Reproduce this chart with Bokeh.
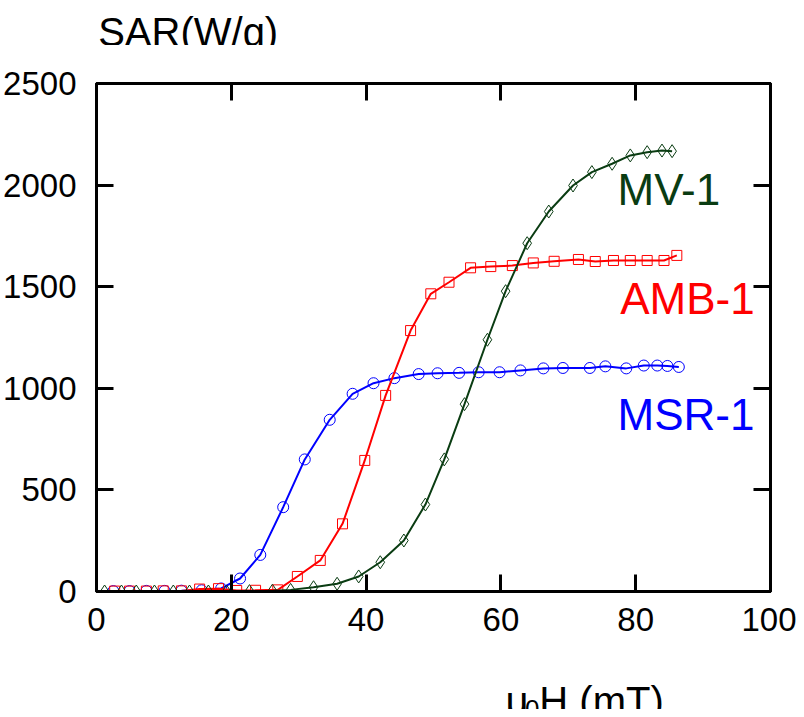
from bokeh.plotting import figure
from bokeh.models import Range1d, FixedTicker, LinearAxis, Label
from bokeh.layouts import column
from bokeh.embed import file_html
from bokeh.resources import INLINE

# ---- data ----
msr_x = [2.5, 4.9, 7.4, 10.1, 12.6, 15.6, 18.5, 21.3, 24.3, 27.7, 30.9, 34.6, 38.0, 41.1,
         44.2, 47.8, 50.6, 53.8, 56.7, 59.8, 62.9, 66.3, 69.2, 73.2, 75.5, 78.6, 81.2,
         83.2, 84.7, 86.4]
msr_y = [2, 2, 3, 3, 4, 6, 15, 64, 180, 415, 650, 845, 973, 1025,
         1050, 1070, 1074, 1076, 1079, 1079, 1088, 1098, 1100, 1100, 1108, 1098, 1112,
         1112, 1110, 1105]

amb_x = [2.7, 4.9, 7.4, 9.9, 12.6, 15.3, 18.1, 20.8, 23.6, 26.9, 29.8, 33.2, 36.5, 39.8,
         42.9, 46.6, 49.6, 52.3, 55.5, 58.5, 61.7, 64.8, 67.9, 71.5, 74.0, 76.7, 79.2,
         81.7, 84.2, 86.1]
amb_y = [2, 2, 2, 3, 3, 12, 14, 5, 6, 8, 74, 153, 333, 645,
         965, 1284, 1465, 1522, 1593, 1599, 1604, 1617, 1625, 1634, 1624, 1629, 1629,
         1629, 1629, 1654]

mv_x = [1.2, 3.7, 5.9, 8.6, 11.4, 13.8, 16.6, 19.3, 22.7, 26.1, 28.8, 32.2, 35.7, 38.9,
        42.1, 45.6, 48.8, 51.6, 54.6, 58.0, 60.7, 63.9, 67.1, 70.7, 73.5, 76.5, 79.2,
        81.7, 83.9, 85.4]
mv_y = [0, 0, 0, 0, 0, 0, 0, 0, 2, 4, 8, 21, 38, 74,
        144, 251, 428, 650, 922, 1239, 1478, 1714, 1870, 1998, 2064, 2105, 2146,
        2162, 2170, 2167]

x_ticks = [0, 20, 40, 60, 80, 100]
y_ticks = [0, 500, 1000, 1500, 2000, 2500]

series_labels = ["MSR-1", "AMB-1", "MV-1"]
y_title = "SAR(W/g)"
x_title_parts = ["\u03bc", "0", "H (mT)"]

BLUE = "#0000ff"
RED = "#ff0000"
GREEN = "#0a3c12"
FONT = "Liberation Sans"

W = 796
TOP_H = 45
BOT_H = 58
MAIN_H = 709 - TOP_H - BOT_H


def text_strip(height):
    f = figure(width=W, height=height, output_backend="svg", toolbar_location=None,
               x_range=Range1d(0, W), y_range=Range1d(0, height),
               x_axis_type=None, y_axis_type=None, min_border=0)
    f.min_border_left = f.min_border_right = f.min_border_top = f.min_border_bottom = 0
    f.xgrid.visible = False
    f.ygrid.visible = False
    f.outline_line_color = None
    f.background_fill_color = "white"
    f.border_fill_color = "white"
    return f


# ---- top strip: y-axis title ----
top_strip = text_strip(TOP_H)
top_strip.add_layout(Label(x=2, y=TOP_H - 31, text=y_title, text_color="black", text_font=FONT,
                           text_font_size="40px", text_baseline="alphabetic", text_align="left"))

# ---- main plot ----
p = figure(width=W, height=MAIN_H, output_backend="svg", toolbar_location=None,
           x_range=Range1d(0, 100), y_range=Range1d(0, 2500),
           min_border_left=96, min_border_right=26, min_border_top=83 - TOP_H,
           min_border_bottom=MAIN_H - (83 - TOP_H) - 508)
p.xgrid.visible = False
p.ygrid.visible = False
p.outline_line_color = "black"
p.outline_line_width = 3
p.background_fill_color = "white"
p.border_fill_color = "white"


def style_axis(ax, ticks, show_labels, standoff=0):
    ax.ticker = FixedTicker(ticks=ticks)
    ax.axis_line_width = 3
    ax.axis_line_color = "black"
    ax.major_tick_line_width = 3
    ax.major_tick_line_color = "black"
    ax.major_tick_in = 17
    ax.major_tick_out = 0
    ax.minor_tick_in = 0
    ax.minor_tick_out = 0
    ax.minor_tick_line_color = None
    ax.major_label_text_font = FONT
    ax.major_label_text_color = "black"
    if show_labels:
        ax.major_label_text_font_size = "33px"
    else:
        ax.major_label_text_color = None
        ax.major_label_text_font_size = "1px"
    ax.major_label_standoff = standoff


style_axis(p.xaxis[0], x_ticks, True, 16)
style_axis(p.yaxis[0], y_ticks, True, 20)
top = LinearAxis()
right = LinearAxis()
style_axis(top, x_ticks, False, 0)
style_axis(right, y_ticks, False, 0)
p.add_layout(top, "above")
p.add_layout(right, "right")

p.line(msr_x, msr_y, line_color=BLUE, line_width=2)
p.scatter(msr_x, msr_y, marker="circle", size=11, fill_color=None, line_color=BLUE, line_width=1)

p.line(amb_x, amb_y, line_color=RED, line_width=2)
p.scatter(amb_x, amb_y, marker="square", size=10, fill_color=None, line_color=RED, line_width=1)

p.line(mv_x, mv_y, line_color=GREEN, line_width=2)
p.scatter(mv_x, mv_y, marker="diamond", size=13, fill_color=None, line_color=GREEN, line_width=1)

for txt, xx, yy, col in [(series_labels[2], 77.3, 1978, GREEN),
                         (series_labels[1], 77.7, 1442, RED),
                         (series_labels[0], 77.3, 871, BLUE)]:
    p.add_layout(Label(x=xx, y=yy, text=txt, text_color=col, text_font=FONT,
                       text_font_size="44px", text_baseline="middle", text_align="left"))

# ---- bottom strip: x-axis title with a real subscript ----
bot_strip = text_strip(BOT_H)
page_top_of_bot = TOP_H + MAIN_H  # 651
for txt, px, base, size in [(x_title_parts[0], 483, 700, "40px"),
                            (x_title_parts[1], 506, 708, "26px"),
                            (x_title_parts[2], 523, 700, "40px")]:
    bot_strip.add_layout(Label(x=px, y=BOT_H - (base - page_top_of_bot), text=txt,
                               text_color="black", text_font=FONT, text_font_size=size,
                               text_baseline="alphabetic", text_align="left"))

layout = column(top_strip, p, bot_strip, spacing=0)
open("out.html", "w").write(file_html(layout, INLINE))
